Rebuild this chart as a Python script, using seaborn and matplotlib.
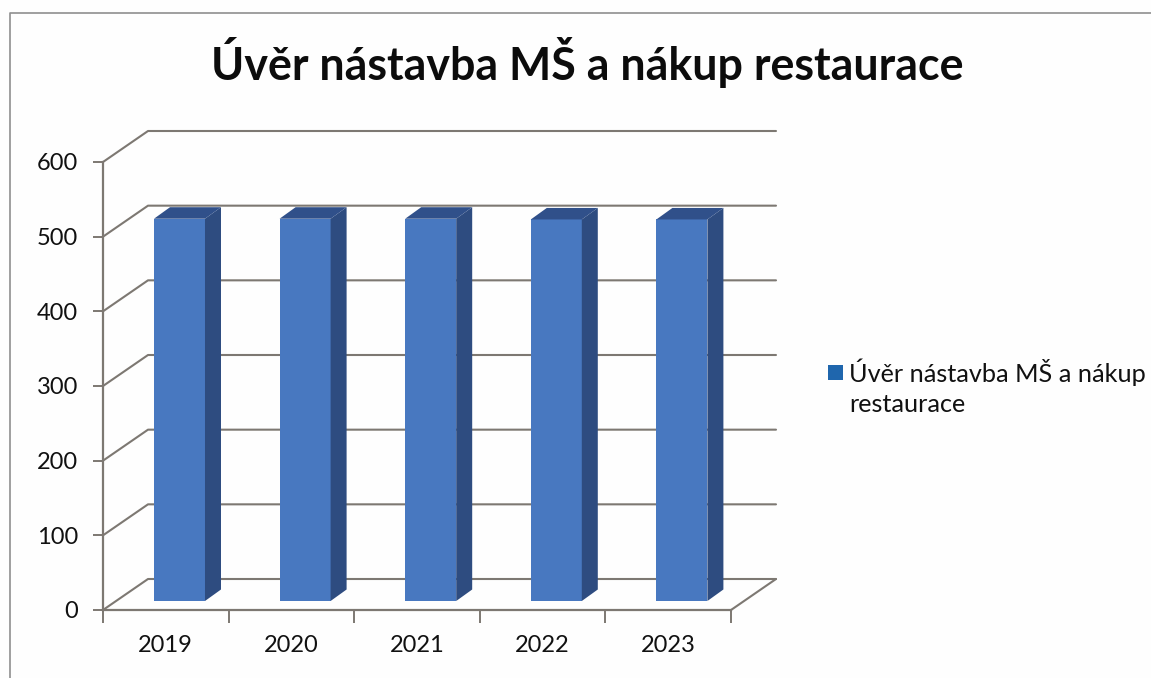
import matplotlib
matplotlib.use("Agg")
import matplotlib.pyplot as plt
import seaborn as sns
from matplotlib.patches import Polygon, Patch
from matplotlib.lines import Line2D

TITLE = "Úvěr nástavba MŠ a nákup restaurace"
LEGEND = "Úvěr nástavba MŠ a nákup\nrestaurace"
years = ["2019", "2020", "2021", "2022", "2023"]
values = [512, 512, 512, 511, 511]
yticks = [0, 100, 200, 300, 400, 500, 600]

W, H = 1151, 678
sns.set_theme(style="white")
plt.rcParams["font.family"] = ["Lato", "DejaVu Sans"]
BG = "#fefefe"
LINE = "#7d7872"
fig = plt.figure(figsize=(W / 100, H / 100), dpi=100, facecolor=BG)
ax = fig.add_axes([103 / W, (H - 610) / H, 628 / W, 448 / H], facecolor="none")

FRONT, SIDE, TOP = "#4878c0", "#2e4c80", "#30508a"
sns.barplot(x=years, y=values, color=FRONT, saturation=1, width=0.406, ax=ax, zorder=4)
ax.set_xlim(-0.5, 4.5)
ax.set_ylim(0, 600)

# depth of the floor and of the bars, in data units
px_x = 5 / 628
px_y = 600 / 448
wall_dx, wall_dy = 45 * px_x, 31 * px_y
bar_shift_x, bar_y0 = 13.7 * px_x, 9 * px_y
bar_dx, bar_dy = 16 * px_x, 11.5 * px_y

# walls and floor
for v in yticks:
    ax.plot([-0.5, -0.5 + wall_dx, 4.5 + wall_dx], [v, v + wall_dy, v + wall_dy],
            color=LINE, lw=1.5, clip_on=False, zorder=1)
ax.plot([4.5, 4.5 + wall_dx], [0, wall_dy], color=LINE, lw=1.5, clip_on=False, zorder=1)

# bars: front faces come from seaborn, sides and tops follow from them
for p in ax.patches:
    p.set_x(p.get_x() + bar_shift_x)
    p.set_y(bar_y0)
    p.set_linewidth(0)
    x0, x1 = p.get_x(), p.get_x() + p.get_width()
    y0, y1 = p.get_y(), p.get_y() + p.get_height()
    ax.add_patch(Polygon([(x1, y0), (x1 + bar_dx, y0 + bar_dy), (x1 + bar_dx, y1 + bar_dy), (x1, y1)],
                         fc=SIDE, ec="none", clip_on=False, zorder=4))
    ax.add_patch(Polygon([(x0, y1), (x0 + bar_dx, y1 + bar_dy), (x1 + bar_dx, y1 + bar_dy), (x1, y1)],
                         fc=TOP, ec="none", clip_on=False, zorder=4))

sns.despine(ax=ax)
for s in ("left", "bottom"):
    ax.spines[s].set_color(LINE)
    ax.spines[s].set_linewidth(1.6)
ax.set_yticks(yticks)
ax.set_xticks([i - 0.5 for i in range(6)], minor=True)
ax.tick_params(axis="x", which="major", length=0, pad=18, labelsize=17, labelcolor="#111111")
ax.tick_params(axis="x", which="minor", length=9, width=1.4, color=LINE, bottom=True)
ax.tick_params(axis="y", length=7, width=1.4, color=LINE, left=True, pad=11, labelsize=17, labelcolor="#111111")

fig.text(587 / W, 1 - 63 / H, TITLE, ha="center", va="center", fontsize=32.2, fontweight="bold", color="#0c0c0c")

leg = ax.legend(handles=[Patch(fc="#1f66ad", ec="none", label=LEGEND)],
                loc="upper left", bbox_to_anchor=(828 / W, 1 - 359 / H), bbox_transform=fig.transFigure,
                frameon=False, fontsize=18.2, handlelength=0.6, handleheight=0.55, handletextpad=0.24,
                labelspacing=0, borderpad=0, borderaxespad=0, labelcolor="#111111")
leg.get_texts()[0].set_linespacing(1.35)
# the key sits on the first text line, not between the two lines
key = leg.legend_handles[0]
key.set_y(key.get_y() + 11.5)

# chart frame of the scanned page
fig.add_artist(Line2D([10 / W, 10 / W, 1], [0, 1 - 13 / H, 1 - 13 / H], color="#8f8f8f", lw=1.2))

fig.savefig("out.png", dpi=100, facecolor=BG)
